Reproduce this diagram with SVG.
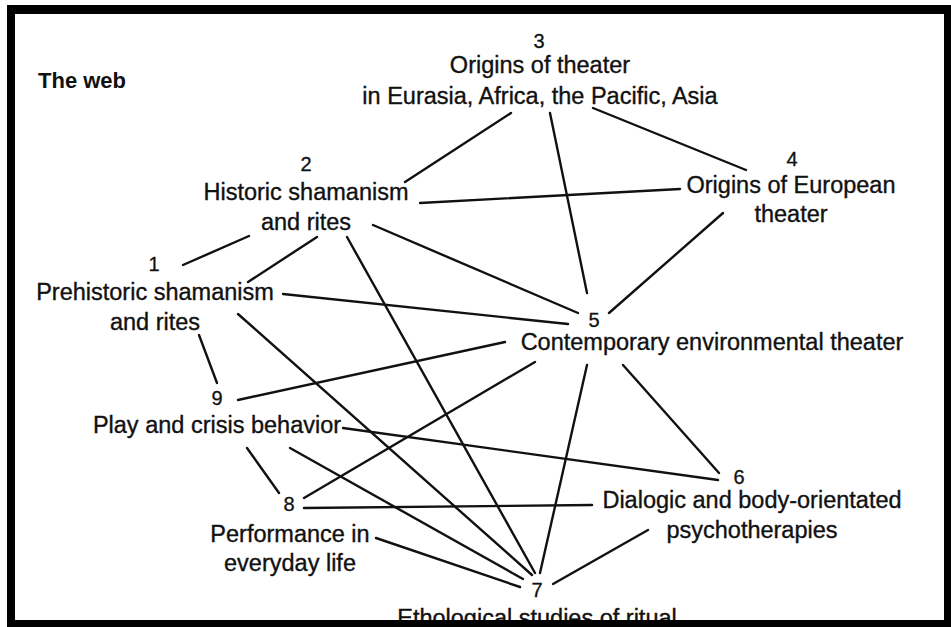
<svg xmlns="http://www.w3.org/2000/svg" width="951" height="627" viewBox="0 0 951 627">
<style>
.lbl{font-family:"Liberation Sans",Arial,sans-serif;font-size:23.5px;fill:#111;stroke:#111;stroke-width:0.35;text-anchor:middle}
.num{font-family:"Liberation Sans",Arial,sans-serif;font-size:20px;fill:#111;stroke:#111;stroke-width:0.3;text-anchor:middle}
.title{font-family:"Liberation Sans",Arial,sans-serif;font-size:22px;font-weight:bold;fill:#111}
.edges line{stroke:#111;stroke-width:2.4;stroke-linecap:round}
</style>
<rect width="951" height="627" fill="#fff"/>
<g class="edges" id="connectors">
<line x1="405" y1="182" x2="511" y2="113"/>
<line x1="420" y1="203" x2="680" y2="189"/>
<line x1="183" y1="265" x2="249" y2="236"/>
<line x1="248" y1="282" x2="317" y2="237"/>
<line x1="347" y1="237" x2="535" y2="573"/>
<line x1="373" y1="225" x2="578" y2="313"/>
<line x1="283" y1="294" x2="568" y2="324"/>
<line x1="238" y1="314" x2="532" y2="575"/>
<line x1="199" y1="335" x2="217" y2="383"/>
<line x1="238" y1="400" x2="505" y2="342"/>
<line x1="343" y1="428" x2="718" y2="480"/>
<line x1="247" y1="448" x2="279" y2="493"/>
<line x1="290" y1="448" x2="523" y2="579"/>
<line x1="304" y1="498" x2="535" y2="362"/>
<line x1="304" y1="508" x2="592" y2="505"/>
<line x1="376" y1="538" x2="520" y2="587"/>
<line x1="550" y1="113" x2="587" y2="293"/>
<line x1="593" y1="108" x2="746" y2="170"/>
<line x1="723" y1="213" x2="609" y2="313"/>
<line x1="587" y1="365" x2="540" y2="573"/>
<line x1="623" y1="365" x2="719" y2="473"/>
<line x1="648" y1="530" x2="553" y2="584"/>
</g>
<text class="title" x="38" y="88">The web</text>
<g id="node3"><text class="num" x="539" y="48">3</text><text class="lbl" x="540" y="73">Origins of theater</text><text class="lbl" x="540" y="104">in Eurasia, Africa, the Pacific, Asia</text></g>
<g id="node4"><text class="num" x="792" y="166">4</text><text class="lbl" x="791" y="193">Origins of European</text><text class="lbl" x="791" y="222">theater</text></g>
<g id="node2"><text class="num" x="306" y="171">2</text><text class="lbl" x="306" y="200">Historic shamanism</text><text class="lbl" x="306" y="230">and rites</text></g>
<g id="node1"><text class="num" x="154" y="271">1</text><text class="lbl" x="155" y="300">Prehistoric shamanism</text><text class="lbl" x="155" y="330">and rites</text></g>
<g id="node9"><text class="num" x="217" y="405">9</text><text class="lbl" x="217" y="433">Play and crisis behavior</text></g>
<g id="node8"><text class="num" x="289" y="511">8</text><text class="lbl" x="290" y="542">Performance in</text><text class="lbl" x="290" y="571">everyday life</text></g>
<g id="node5"><text class="num" x="594" y="327">5</text><text class="lbl" x="712" y="350">Contemporary environmental theater</text></g>
<g id="node6"><text class="num" x="739" y="484">6</text><text class="lbl" x="752" y="508">Dialogic and body-orientated</text><text class="lbl" x="752" y="538">psychotherapies</text></g>
<g id="node7"><text class="num" x="537" y="597">7</text><text class="lbl" x="537" y="626">Ethological studies of ritual</text></g>
<path d="M7 5H951V627H7Z M15 14V620H944V14Z" fill="#000" fill-rule="evenodd"/>
</svg>
